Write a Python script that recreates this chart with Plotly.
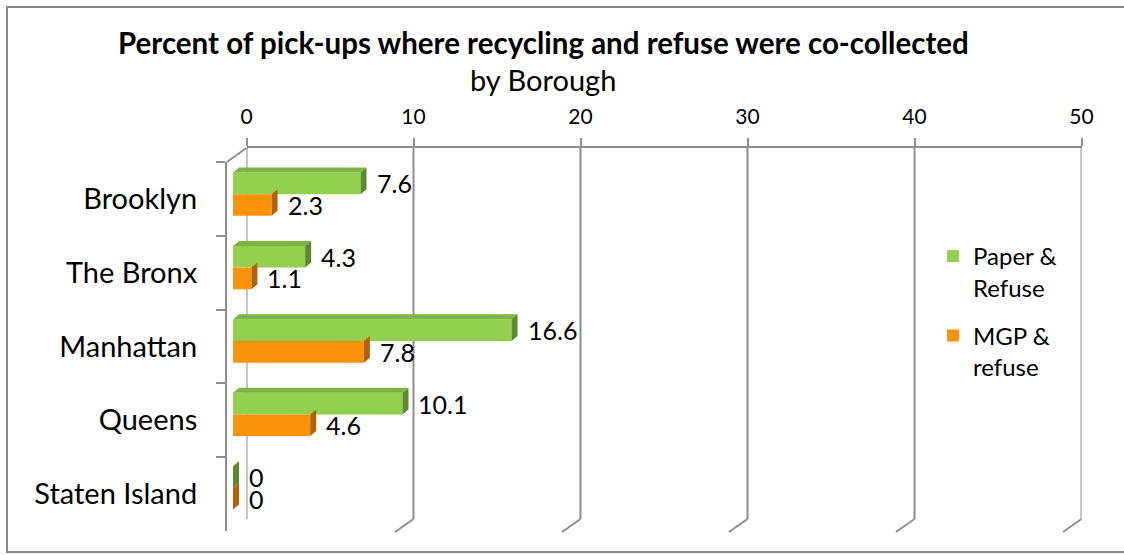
import plotly.graph_objects as go

# ---------------- data ----------------
boroughs = ["Brooklyn", "The Bronx", "Manhattan", "Queens", "Staten Island"]
paper_refuse = [7.6, 4.3, 16.6, 10.1, 0]
mgp_refuse = [2.3, 1.1, 7.8, 4.6, 0]
series_names = ["Paper &<br>Refuse", "MGP &<br>refuse"]
axis_ticks = [0, 10, 20, 30, 40, 50]

# ---------------- style / geometry ----------------
W, H = 1124, 555
FONT = "Lato"
GREEN, GREEN_TOP, GREEN_SIDE = "#92D050", "#7DB544", "#5E8A2E"
ORANGE, ORANGE_SIDE = "#FA920A", "#B0640A"
LINE = "#8E8E8E"


def px(p):
    return p / W


def py(p):
    return 1 - p / H


# bars plane (front-ish)
X0_PX, X50_PX = 233, 233 + 50 * 16.78
BAR_Y_TOP, BAR_Y_BOT = 157.5, 524.5
# back wall
BACK_L, BACK_R, BACK_T, BACK_B = 246.5, 1081.5, 148, 519
# front (left) wall
FRONT_X, FRONT_T, FRONT_B = 227, 162, 531

n = len(boroughs)
pos = list(range(n))
w = 0.295                       # bar thickness (category units)
ddx = 6 / 16.78                 # 3D depth in value units
ddy = 5 / ((BAR_Y_BOT - BAR_Y_TOP) / n)  # 3D depth in category units

fig = go.Figure()

# front faces
fig.add_trace(go.Bar(y=pos, x=paper_refuse, orientation="h", width=w, offset=-w,
                     marker=dict(color=GREEN, line=dict(width=0)), name=series_names[0],
                     legendgroup="g", xaxis="x", yaxis="y", hoverinfo="skip"))
fig.add_trace(go.Bar(y=pos, x=mgp_refuse, orientation="h", width=w, offset=0,
                     marker=dict(color=ORANGE, line=dict(width=0)), name=series_names[1],
                     legendgroup="o", xaxis="x", yaxis="y", hoverinfo="skip"))


def poly_trace(xs, ys, color):
    return go.Scatter(x=xs, y=ys, mode="lines", fill="toself", fillcolor=color,
                      line=dict(width=0, color=color), showlegend=False,
                      hoverinfo="skip", xaxis="x", yaxis="y")


# green top faces and side faces
tx, ty, sx, sy = [], [], [], []
for i, v in zip(pos, paper_refuse):
    t = i - w
    tx += [0, ddx, v + ddx, v, 0, None]
    ty += [t, t - ddy, t - ddy, t, t, None]
    sx += [v, v + ddx, v + ddx, v, v, None]
    sy += [t, t - ddy, i - ddy, i, t, None]
fig.add_trace(poly_trace(tx, ty, GREEN_TOP))
fig.add_trace(poly_trace(sx, sy, GREEN_SIDE))

# orange side faces
sx, sy = [], []
for i, v in zip(pos, mgp_refuse):
    sx += [v, v + ddx, v + ddx, v, v, None]
    sy += [i, i - ddy, i + w - ddy, i + w, i, None]
fig.add_trace(poly_trace(sx, sy, ORANGE_SIDE))

# dummy traces for the back wall axis and the front wall axis
fig.add_trace(go.Scatter(x=[axis_ticks[0], axis_ticks[-1]], y=[0, 1], mode="markers",
                         marker=dict(opacity=0), showlegend=False, hoverinfo="skip",
                         xaxis="x2", yaxis="y2"))
fig.add_trace(go.Scatter(x=[0] * n, y=boroughs, mode="markers", marker=dict(opacity=0),
                         showlegend=False, hoverinfo="skip", xaxis="x3", yaxis="y3"))

# data labels
annotations = []
LBL = 25
for i, v in zip(pos, paper_refuse):
    annotations.append(dict(x=v, y=i - w / 2, xref="x", yref="y", text=f"{v:g}",
                            showarrow=False, xanchor="left", yanchor="middle", xshift=14,
                            font=dict(family=FONT, size=LBL, color="black")))
for i, v in zip(pos, mgp_refuse):
    annotations.append(dict(x=v, y=i + w / 2, xref="x", yref="y", text=f"{v:g}",
                            showarrow=False, xanchor="left", yanchor="middle", xshift=14,
                            font=dict(family=FONT, size=LBL, color="black")))

# titles
annotations.append(dict(x=px(543), y=py(42), xref="paper", yref="paper",
                        text="<b>Percent of pick-ups where recycling and refuse were co-collected</b>",
                        showarrow=False, xanchor="center", yanchor="middle",
                        font=dict(family=FONT, size=29.5, color="black")))
annotations.append(dict(x=px(543), y=py(80), xref="paper", yref="paper", text="by Borough",
                        showarrow=False, xanchor="center", yanchor="middle",
                        font=dict(family=FONT, size=29, color="black")))

# shapes: back wall gridlines + bottom diagonals, left wall diagonals, frame
shapes = []
for v in axis_ticks:
    shapes.append(dict(type="line", xref="x2", yref="paper", x0=v, x1=v,
                       y0=py(BACK_B), y1=py(BACK_T), line=dict(color=LINE, width=2), layer="below"))
    shapes.append(dict(type="line", xref="x2", yref="paper", xsizemode="pixel", xanchor=v,
                       x0=0, x1=-(BACK_L - FRONT_X - 1), y0=py(BACK_B), y1=py(FRONT_B + 1),
                       line=dict(color=LINE, width=2), layer="below"))
shapes.append(dict(type="line", xref="paper", yref="paper", x0=px(FRONT_X), x1=px(BACK_L),
                   y0=py(FRONT_T), y1=py(BACK_T), line=dict(color=LINE, width=2), layer="below"))
shapes.append(dict(type="rect", xref="paper", yref="paper", x0=px(7), x1=px(1140),
                   y0=py(552), y1=py(7), line=dict(color="#878787", width=2),
                   fillcolor="rgba(0,0,0,0)", layer="below"))

fig.update_layout(
    template="none",
    width=W, height=H, autosize=False,
    margin=dict(l=0, r=0, t=0, b=0, pad=0, autoexpand=False),
    paper_bgcolor="white", plot_bgcolor="rgba(0,0,0,0)",
    barmode="overlay",
    font=dict(family=FONT, color="black"),
    showlegend=True,
    legend=dict(x=px(933), y=py(234), xanchor="left", yanchor="top",
                font=dict(family=FONT, size=24, color="black"), valign="top",
                traceorder="grouped", tracegroupgap=14, bgcolor="rgba(0,0,0,0)",
                borderwidth=0),
    xaxis=dict(domain=[px(X0_PX), px(X50_PX)], range=[axis_ticks[0], axis_ticks[-1]],
               visible=False, anchor="y", automargin=False),
    yaxis=dict(domain=[py(BAR_Y_BOT), py(BAR_Y_TOP)], range=[n - 0.5, -0.5],
               visible=False, anchor="x", automargin=False),
    xaxis2=dict(domain=[px(BACK_L), px(BACK_R)], range=[axis_ticks[0], axis_ticks[-1]],
                anchor="y2", side="top", tickvals=axis_ticks, showgrid=False, zeroline=False,
                showline=True, linecolor=LINE, linewidth=2, ticks="outside", ticklen=8,
                tickwidth=2, tickcolor=LINE, tickfont=dict(family=FONT, size=21, color="black"),
                ticklabelstandoff=6, automargin=False),
    yaxis2=dict(domain=[py(BACK_B), py(BACK_T)], range=[0, 1], visible=False, anchor="x2",
                automargin=False),
    xaxis3=dict(domain=[px(FRONT_X), px(FRONT_X + 50)], visible=False, anchor="y3", range=[0, 1],
                automargin=False),
    yaxis3=dict(domain=[py(FRONT_B), py(FRONT_T)], anchor="x3", type="category",
                categoryorder="array", categoryarray=boroughs, range=[n - 0.5, -0.5],
                autorange=False, showline=True, linecolor=LINE, linewidth=2, ticks="outside",
                ticklen=9, tickwidth=2, tickcolor=LINE, tickson="boundaries", showgrid=False,
                zeroline=False, tickfont=dict(family=FONT, size=29, color="black"),
                ticklabelstandoff=22, automargin=False),
    shapes=shapes,
    annotations=annotations,
)

fig.write_html("out.html")
